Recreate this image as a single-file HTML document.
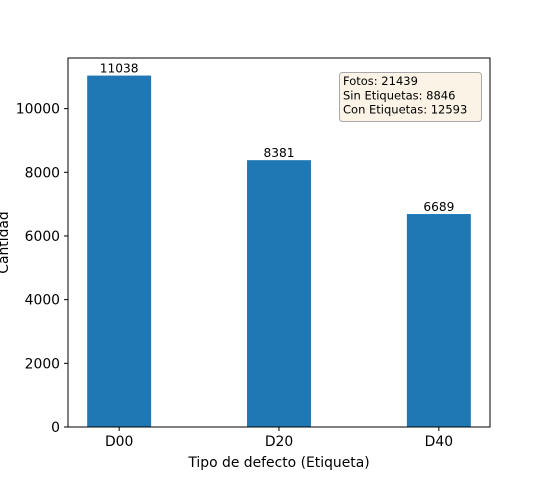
<!DOCTYPE html>
<html><head><meta charset="utf-8"><style>
body{margin:0;background:#fff}
svg text{font-family:"DejaVu Sans","Liberation Sans",sans-serif;fill:#000}
</style></head><body>
<svg id="chart" width="545" height="480" xmlns="http://www.w3.org/2000/svg">
<rect width="545" height="480" fill="#fff"/>
<g id="plot"></g>
</svg>
<script>
const categories = ["D00","D20","D40"];
const values = [11038, 8381, 6689];
const yTicks = [0,2000,4000,6000,8000,10000];
const infoLines = ["Fotos: 21439","Sin Etiquetas: 8846","Con Etiquetas: 12593"];

const L=68,R=490,T=58,B=427;
const xMin=-0.32,xMax=2.32,yMin=0,yMax=11590;
const xs=i=>L+(i-xMin)/(xMax-xMin)*(R-L);
const ys=v=>B-(v-yMin)/(yMax-yMin)*(B-T);
const ns="http://www.w3.org/2000/svg";
const g=document.getElementById('plot');
function mk(tag,attrs,txt){const e=document.createElementNS(ns,tag);for(const k in attrs)e.setAttribute(k,attrs[k]);if(txt!==undefined)e.textContent=txt;g.appendChild(e);return e;}

values.forEach((v,i)=>{
  const x0=xs(i-0.2),x1=xs(i+0.2);
  const b=mk('rect',{x:x0,y:ys(v),width:x1-x0,height:B-ys(v),fill:'#1f77b4'});
  
  
  const t=mk('text',{x:xs(i),y:ys(v)-3,'text-anchor':'middle','font-size':'12.2'},String(v));
  
  
  const tk=mk('line',{x1:xs(i),x2:xs(i),y1:B,y2:B+4,stroke:'#000','stroke-width':1});
  
  
  const tl=mk('text',{x:xs(i),y:B+19,'text-anchor':'middle','font-size':'13.9'},categories[i]);
  
  
});
yTicks.forEach(v=>{
  const tk=mk('line',{x1:L-4,x2:L,y1:ys(v),y2:ys(v),stroke:'#000','stroke-width':1});
  
  
  const tl=mk('text',{x:L-8,y:ys(v)+5,'text-anchor':'end','font-size':'13.9'},String(v));
  
  
});
const frame=mk('rect',{x:L,y:T,width:R-L,height:B-T,fill:'none',stroke:'#000','stroke-width':1});


const xt=mk('text',{x:(L+R)/2,y:467,'text-anchor':'middle','font-size':'13.9'},'Tipo de defecto (Etiqueta)');


const yt=mk('text',{x:0,y:0,'text-anchor':'middle','font-size':'13.9',transform:'translate(8,'+((T+B)/2)+') rotate(-90)'},'Cantidad');


const box=mk('rect',{x:339.5,y:72.5,width:142,height:49,rx:3,fill:'#fbf4e6',stroke:'#a8a8a8','stroke-width':1});


infoLines.forEach((s,i)=>{
  const t=mk('text',{x:343,y:85+i*14.3,'font-size':'11.5'},s);
  
  
});
</script>
</body></html>
